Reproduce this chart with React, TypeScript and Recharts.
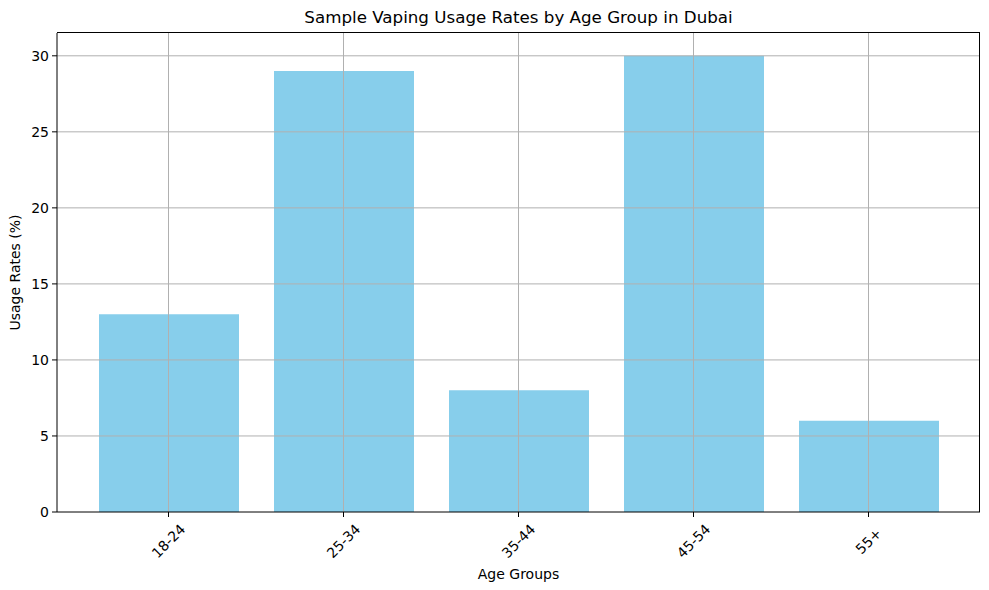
import React from 'react';
import { BarChart, Bar, XAxis, YAxis, ReferenceLine } from 'recharts';

const ageGroups = ['18-24', '25-34', '35-44', '45-54', '55+'];
const usageRates = [13, 29, 8, 30, 6];
const yTicks = [0, 5, 10, 15, 20, 25, 30];
const gridTicks = [5, 10, 15, 20, 25, 30];

const data = ageGroups.map((group, i) => ({ group, rate: usageRates[i] }));

const FONT = '"DejaVu Sans", sans-serif';
const GRID = '#b0b0b0';

const RotatedTick = ({ x, y, payload }: any) => (
    <g transform={`translate(${x},${y + 24})`}>
        <text
            transform="rotate(-45)"
            textAnchor="middle"
            dominantBaseline="central"
            fill="#000"
            fontSize={14}
            fontFamily={FONT}
        >
            {payload.value}
        </text>
    </g>
);

export default function App() {
    return (
        <div style={{ position: 'absolute', left: 0, top: 0, width: 989, height: 590, background: '#fff' }}>
            <div
                style={{
                    position: 'absolute',
                    left: 57,
                    width: 923,
                    top: 7,
                    textAlign: 'center',
                    fontFamily: FONT,
                    fontSize: 16.7,
                    color: '#000',
                }}
            >
                Sample Vaping Usage Rates by Age Group in Dubai
            </div>
            <BarChart
                width={989}
                height={590}
                data={data}
                margin={{ top: 33, right: 9, left: 0, bottom: 0 }}
            >
                <XAxis
                    dataKey="group"
                    height={78}
                    padding={{ left: 24, right: 24 }}
                    tick={<RotatedTick />}
                    tickSize={5}
                    tickMargin={0}
                    stroke="#000"
                    interval={0}
                    label={{ value: 'Age Groups', position: 'insideBottom', offset: 11, fill: '#000', fontSize: 14, fontFamily: FONT }}
                />
                <YAxis
                    width={57}
                    domain={[0, 31.5]}
                    ticks={yTicks}
                    allowDataOverflow
                    tickSize={5}
                    tickMargin={3}
                    stroke="#000"
                    tick={{ fill: '#000', fontSize: 14, fontFamily: FONT }}
                    label={{ value: 'Usage Rates (%)', angle: -90, position: 'insideLeft', offset: 15, style: { textAnchor: 'middle' }, fill: '#000', fontSize: 14, fontFamily: FONT }}
                />
                <Bar dataKey="rate" fill="#87CEEB" barSize={140} isAnimationActive={false} />
                {gridTicks.map((t) => (
                    <ReferenceLine key={`y${t}`} y={t} stroke={GRID} strokeWidth={1} />
                ))}
                {ageGroups.map((g) => (
                    <ReferenceLine key={`x${g}`} x={g} stroke={GRID} strokeWidth={1} />
                ))}
            </BarChart>
            <div
                style={{
                    position: 'absolute',
                    left: 57,
                    top: 32,
                    width: 923,
                    height: 480,
                    boxSizing: 'border-box',
                    borderTop: '1px solid #000',
                    borderRight: '1px solid #000',
                    pointerEvents: 'none',
                }}
            />
        </div>
    );
}
